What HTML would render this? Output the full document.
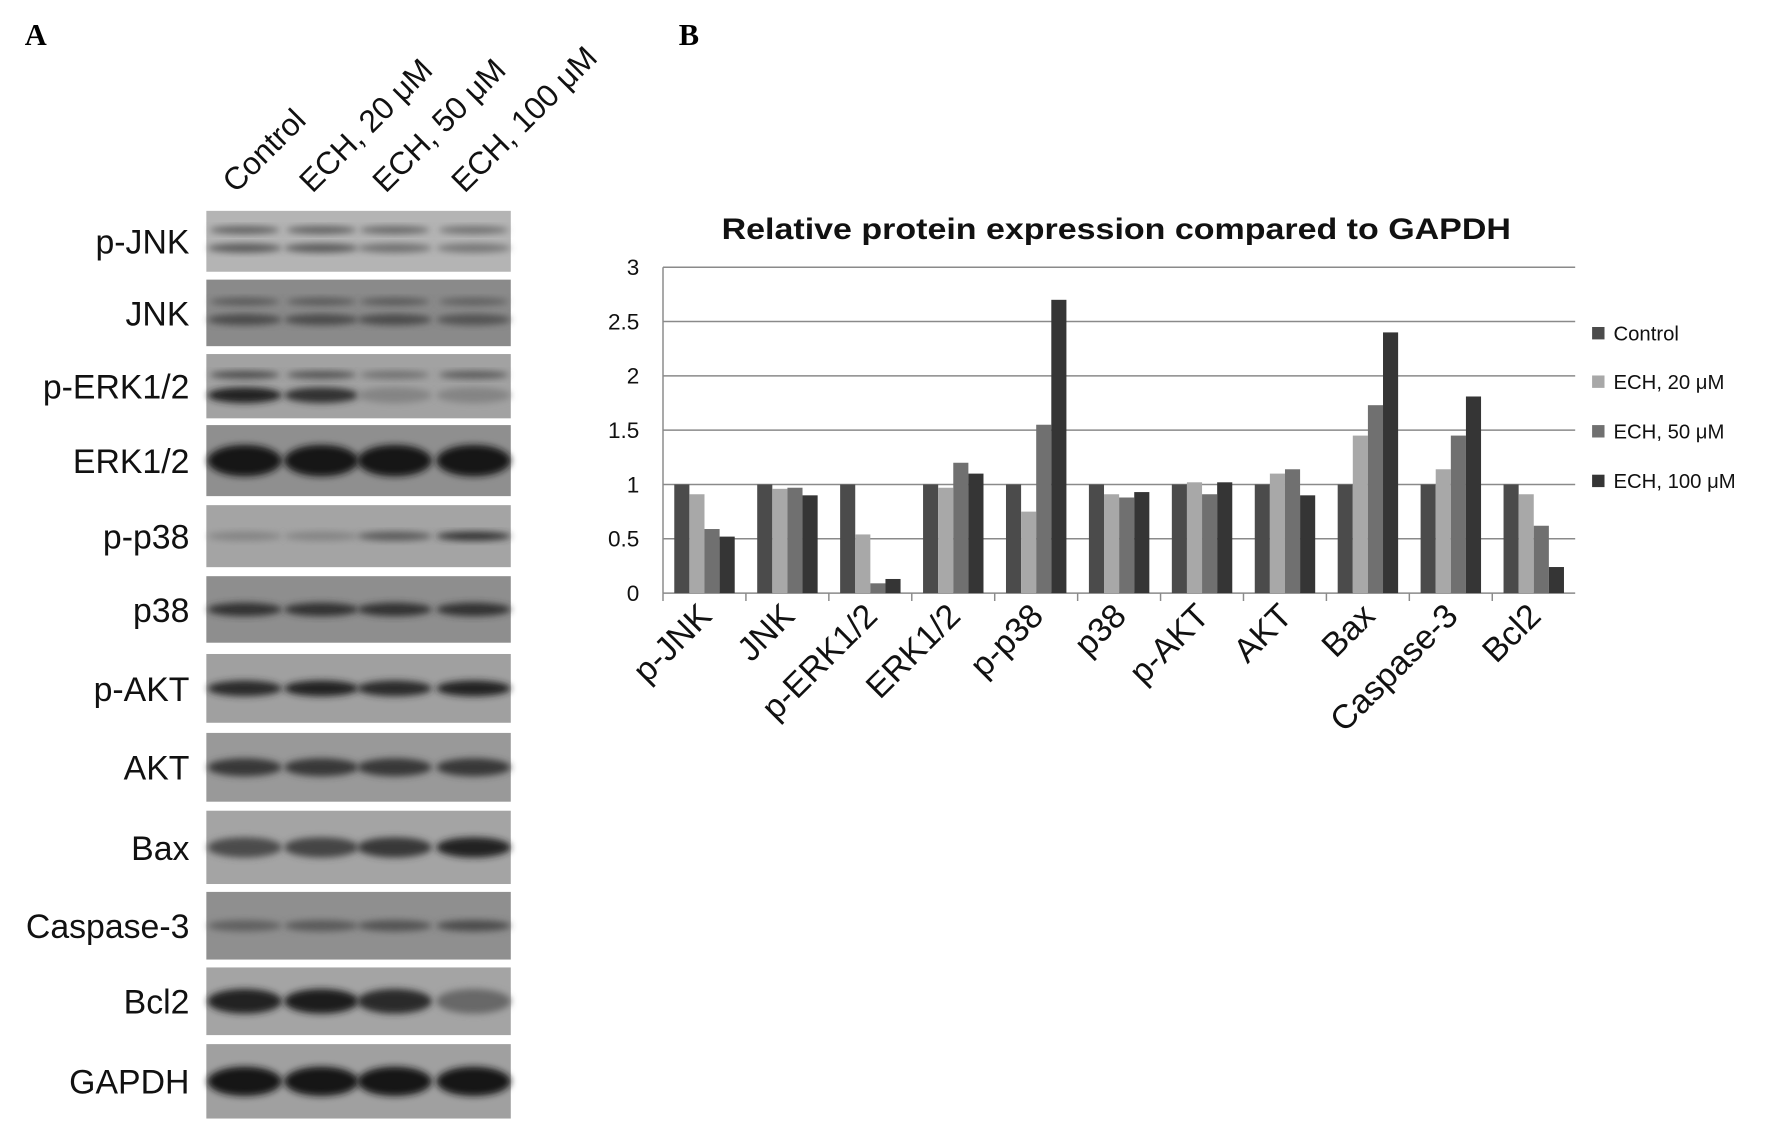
<!DOCTYPE html>
<html><head><meta charset="utf-8"><style>
html,body{margin:0;padding:0;background:#fff;}
svg{display:block;font-family:"Liberation Sans",sans-serif;}
</style></head><body>
<svg id="fig" width="1768" height="1135" viewBox="0 0 1568 1006.6" preserveAspectRatio="none" xmlns="http://www.w3.org/2000/svg">
<defs>
<filter id="blur" x="-20%" y="-50%" width="140%" height="200%"><feGaussianBlur stdDeviation="3"/></filter>
</defs>
<text x="22" y="40" font-family="Liberation Serif" font-weight="bold" font-size="27">A</text>
<text x="602" y="40" font-family="Liberation Serif" font-weight="bold" font-size="27">B</text>
<g id="blots"></g>
<g id="chart"></g>
</svg>
<script>
const NS='http://www.w3.org/2000/svg';
function mk(tag,attrs,parent,text){const e=document.createElementNS(NS,tag);for(const k in attrs)e.setAttribute(k,attrs[k]);if(text!==undefined)e.textContent=text;parent.appendChild(e);return e;}

// ---------- Chart data ----------
const categories=['p-JNK','JNK','p-ERK1/2','ERK1/2','p-p38','p38','p-AKT','AKT','Bax','Caspase-3','Bcl2'];
const seriesNames=['Control','ECH, 20 μM','ECH, 50 μM','ECH, 100 μM'];
const control=[1,1,1,1,1,1,1,1,1,1,1];
const ech20=[0.91,0.96,0.54,0.97,0.75,0.91,1.02,1.10,1.45,1.14,0.91];
const ech50=[0.59,0.97,0.09,1.20,1.55,0.88,0.91,1.14,1.73,1.45,0.62];
const ech100=[0.52,0.90,0.13,1.10,2.70,0.93,1.02,0.90,2.40,1.81,0.24];
const yTicks=[0,0.5,1,1.5,2,2.5,3];
const yTickLabels=['0','0.5','1','1.5','2','2.5','3'];

const series=[control,ech20,ech50,ech100];
const colors=['#4b4b4b','#a8a8a8','#707070','#353535'];
const X0=588,X1=1397,Y0=526,Y3=237,YMAX=3;
const bw=(X1-X0)/categories.length;
const yS=v=>Y0-(v/YMAX)*(Y0-Y3);
const xS=i=>X0+i*bw;
const chart=document.getElementById('chart');

let t=mk('text',{x:990,y:212,'text-anchor':'middle','font-weight':'bold','font-size':26,fill:'#111',textLength:700,lengthAdjust:'spacingAndGlyphs'},chart,'Relative protein expression compared to GAPDH');



yTicks.forEach((v,i)=>{
  if(v>0){const g=mk('line',{x1:X0,x2:X1,y1:yS(v),y2:yS(v),stroke:'#8a8a8a','stroke-width':1.3},chart);
  
  }
  const tl=mk('text',{x:567,y:yS(v)+7,'text-anchor':'end','font-size':20,fill:'#111'},chart,yTickLabels[i]);
  
  
});
let ax=mk('line',{x1:X0,x2:X0,y1:Y3,y2:Y0,stroke:'#8a8a8a','stroke-width':1.3},chart);


let xa=mk('line',{x1:X0,x2:X1,y1:Y0,y2:Y0,stroke:'#8a8a8a','stroke-width':1.3},chart);



const barW=13.4, off=10;
categories.forEach((c,i)=>{
  const tk=mk('line',{x1:xS(i),x2:xS(i),y1:Y0,y2:Y0+7,stroke:'#8a8a8a','stroke-width':1.3},chart);
  
  
  series.forEach((s,j)=>{
    const r=mk('rect',{x:xS(i)+off+j*barW,y:yS(s[i]),width:barW,height:Y0-yS(s[i]),fill:colors[j]},chart);
    
    
  });
  const cx=xS(i)+bw/2+8, cy=Y0+22;
  const lb=mk('text',{x:cx,y:cy,'text-anchor':'end','font-size':30,fill:'#111',transform:`rotate(-45 ${cx} ${cy})`},chart,c);
  
  
});
const legY=[296,339,383,427];
seriesNames.forEach((n,j)=>{
  const sq=mk('rect',{x:1412,y:legY[j]-6,width:11,height:11,fill:colors[j]},chart);
  
  
  const lt=mk('text',{x:1431,y:legY[j]+6,'font-size':18,fill:'#111'},chart,n);
  
  
});

// ---------- Western blot panel ----------
const blotLabels=['p-JNK','JNK','p-ERK1/2','ERK1/2','p-p38','p38','p-AKT','AKT','Bax','Caspase-3','Bcl2','GAPDH'];
const blotTop=[187,248,314,377,448,511,580,650,719,791,858,926];
const blotBot=[241,307,371,440,503,570,641,711,784,851,918,992];
const bgGray=['#b4b4b4','#8a8a8a','#a2a2a2','#8f8f8f','#a4a4a4','#8e8e8e','#a0a0a0','#999','#a4a4a4','#8f8f8f','#a4a4a4','#a0a0a0'];
const bandDark=[[0.5,0.5,0.35,0.3],[0.6,0.6,0.6,0.55],[0.9,0.8,0.2,0.2],[1,1,1,1],[0.2,0.2,0.5,0.8],[0.8,0.8,0.8,0.8],[0.85,0.9,0.85,0.9],[0.75,0.75,0.75,0.75],[0.6,0.65,0.75,0.9],[0.45,0.5,0.55,0.6],[0.9,0.95,0.85,0.4],[1,1,1,1]];
const bandH=[8,10,14,28,8,12,14,16,18,10,22,26];
const bandShift=[6,6,8,0,0,0,0,0,0,0,0,0];
const upperDark=[[0.45,0.45,0.4,0.35],[0.5,0.5,0.5,0.45],[0.6,0.55,0.35,0.5]];
const laneX=[217,285,350,420];
const lanes=['Control','ECH, 20 μM','ECH, 50 μM','ECH, 100 μM'];
const blots=document.getElementById('blots');
const BX0=183,BX1=453;
blotLabels.forEach((l,i)=>{
  const g=mk('g',{},blots);
  
  
  mk('rect',{x:BX0,y:blotTop[i],width:BX1-BX0,height:blotBot[i]-blotTop[i],fill:bgGray[i]},g);
  const cy=(blotTop[i]+blotBot[i])/2;
  laneX.forEach((lx,k)=>{
    const d=bandDark[i][k];
    const shade=Math.round(160-d*140);
    mk('ellipse',{cx:lx,cy:cy+bandShift[i],rx:33,ry:bandH[i]/2,fill:`rgb(${shade},${shade},${shade})`,filter:'url(#blur)'},g);
    if(i<3){const u=upperDark[i][k];const s2=Math.round(160-u*140);
      mk('ellipse',{cx:lx,cy:cy-10,rx:31,ry:3.5,fill:`rgb(${s2},${s2},${s2})`,filter:'url(#blur)'},g);}
  });
  const tl=mk('text',{x:168,y:cy+11,'text-anchor':'end','font-size':30,fill:'#111'},g,l);
  
  
});
lanes.forEach((l,k)=>{
  const x=laneX[k]-8, y=172;
  const t=mk('text',{x:x,y:y,'font-size':28,fill:'#111',transform:`rotate(-45 ${x} ${y})`},blots,l);
  
  
});
</script>
</body></html>
